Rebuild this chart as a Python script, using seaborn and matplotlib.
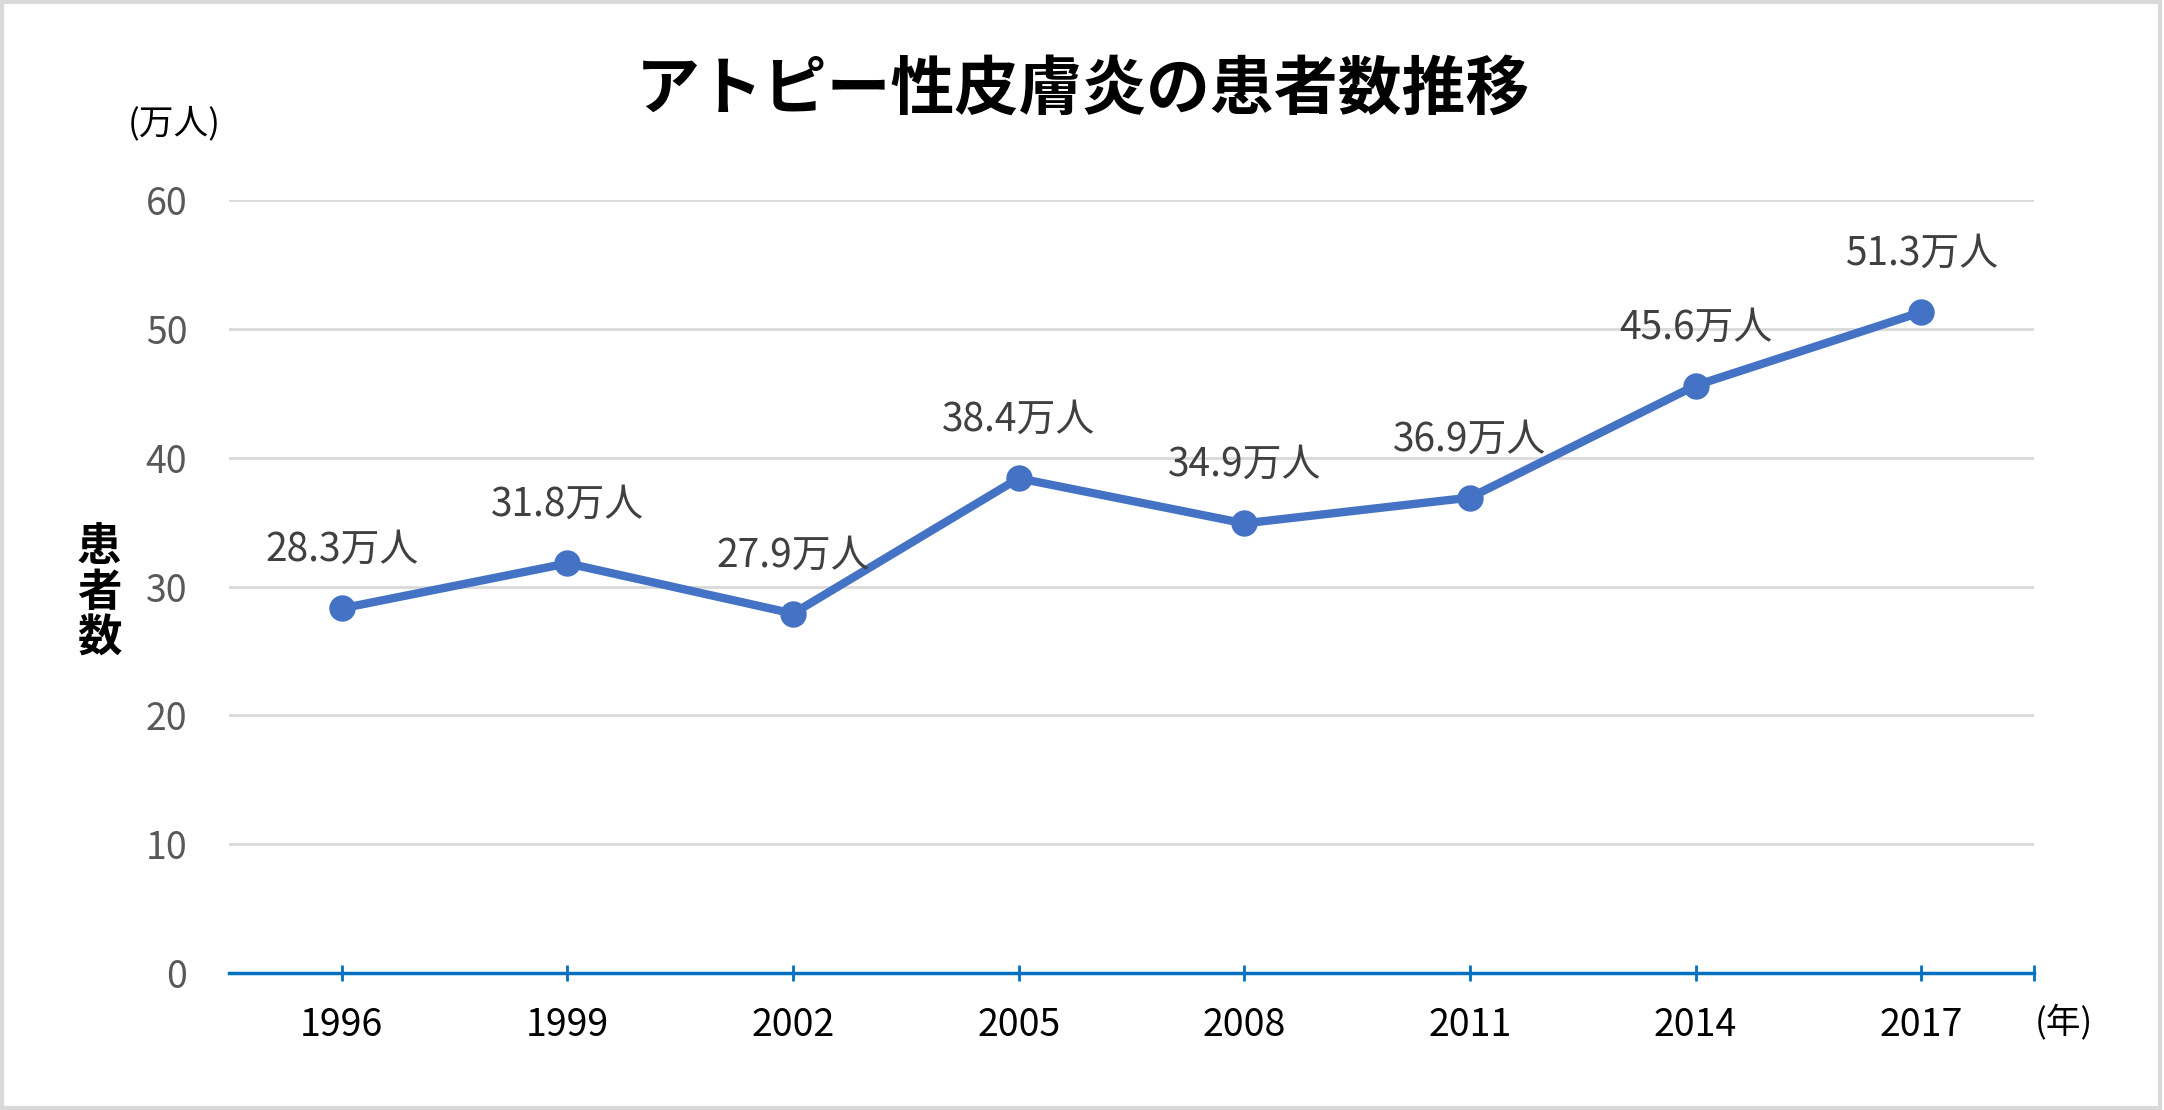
import numpy as np
import pandas as pd
import matplotlib
matplotlib.use("Agg")
import matplotlib.pyplot as plt
import seaborn as sns

years = ["1996", "1999", "2002", "2005", "2008", "2011", "2014", "2017"]
patients = [28.3, 31.8, 27.9, 38.4, 34.9, 36.9, 45.6, 51.3]
y_ticks = [0, 10, 20, 30, 40, 50, 60]
title = "アトピー性皮膚炎の患者数推移"
y_label = "患\n者\n数"
y_unit = "(万人)"
x_unit = "(年)"
label_suffix = "万人"

sns.set_theme(style="white")
plt.rcParams['font.family'] = ['Noto Sans CJK JP', 'DejaVu Sans']

df = pd.DataFrame({"pos": np.arange(len(years)), "val": patients})

fig = plt.figure(figsize=(21.64, 11.10), dpi=100)
ax = fig.add_axes([229/2164, 1-973/1110, (2034-229)/2164, (973-200)/1110])

line_color = "#4472C4"
sns.lineplot(data=df, x="pos", y="val", ax=ax, color=line_color, linewidth=6,
             marker="o", markersize=19, markeredgecolor=line_color, markeredgewidth=0, zorder=3)

ax.set_xlim(-0.5, len(years) - 0.5)
ax.set_ylim(0, 60)
ax.set_yticks(y_ticks)
ax.set_yticklabels([str(t) for t in y_ticks], color="#595959", fontsize=27)
ax.set_xticks(np.arange(len(years)))
ax.set_xticklabels(years, color="black", fontsize=27)
ax.set_xlabel("")
ax.set_ylabel("")

ax.grid(axis="y", color="#D9D9D9", linewidth=2)
ax.set_axisbelow(True)
for s in ["top", "right", "left"]:
    ax.spines[s].set_visible(False)
axis_blue = "#0070C0"
ax.spines["bottom"].set_color(axis_blue)
ax.spines["bottom"].set_linewidth(2.5)
ax.tick_params(axis="x", bottom=True, direction="inout", length=12, width=2, color=axis_blue, pad=18)
ax.tick_params(axis="y", left=False, length=0, pad=30)
# end tick at the right edge
ax.plot([1], [0], transform=ax.transAxes, marker="|", markersize=12, markeredgewidth=2,
        color=axis_blue, clip_on=False)

for x, v in zip(df["pos"], df["val"]):
    ax.annotate(f"{v:.1f}{label_suffix}", (x, v), xytext=(0, 42), textcoords="offset points",
                ha="center", va="center", fontsize=28, color="#404040")

fig.text(1083/2164, 1-90/1110, title, ha="center", va="center", fontsize=46, fontweight="bold", color="black")
fig.text(174/2164, 1-124/1110, y_unit, ha="center", va="center", fontsize=25, color="black")
fig.text(99/2164, 1-593/1110, y_label, ha="center", va="center", fontsize=32, fontweight="bold",
         color="black", linespacing=1.0)
fig.text(2064/2164, 1-1023/1110, x_unit, ha="center", va="center", fontsize=25, color="black")

# figure border
fig.patches.append(plt.Rectangle((0.001, 0.002), 0.997, 0.996, transform=fig.transFigure,
                                 fill=False, edgecolor="#D9D9D9", linewidth=3))

fig.savefig("out.png", dpi=100)
